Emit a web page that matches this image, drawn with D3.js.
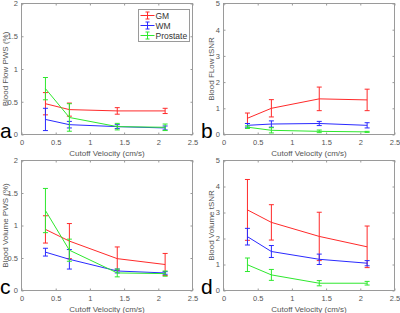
<!DOCTYPE html>
<html>
<head>
<meta charset="utf-8">
<script src="https://cdn.jsdelivr.net/npm/d3@7"></script>
<style>
  body { margin: 0; background: #fff; }
  svg { display: block; font-family: "Liberation Sans", Arial, sans-serif; }
</style>
</head>
<body>
<svg id="chart" width="400" height="313"></svg>
<script>
const velocities = [0.35, 0.7, 1.4, 2.1]
const groups = ["GM", "WM", "Prostate"]
const groupColors = ["#ff2a2a", "#2a2aff", "#2ee82e"]
const xTicks = [0, 0.5, 1, 1.5, 2, 2.5]

// rows: GM, WM, Prostate
const flowPwsMean = [[0.47, 0.38, 0.36, 0.36], [0.23, 0.15, 0.12, 0.10], [0.70, 0.26, 0.12, 0.11]]
const flowPwsErr = [[0.17, 0.10, 0.05, 0.04], [0.17, 0.05, 0.03, 0.03], [0.17, 0.21, 0.05, 0.05]]

const flowSnrMean = [[0.62, 1.00, 1.36, 1.32], [0.35, 0.40, 0.42, 0.35], [0.28, 0.16, 0.12, 0.10]]
const flowSnrErr = [[0.20, 0.33, 0.45, 0.41], [0.07, 0.12, 0.08, 0.10], [0.05, 0.10, 0.05, 0.02]]

const volPwsMean = [[0.94, 0.76, 0.49, 0.40], [0.59, 0.48, 0.30, 0.27], [1.23, 0.62, 0.27, 0.26]]
const volPwsErr = [[0.21, 0.27, 0.18, 0.17], [0.06, 0.15, 0.03, 0.02], [0.34, 0.17, 0.06, 0.04]]

const volSnrMean = [[3.10, 2.62, 2.08, 1.68], [2.07, 1.50, 1.20, 1.05], [0.99, 0.60, 0.28, 0.28]]
const volSnrErr = [[1.17, 0.68, 0.93, 0.80], [0.32, 0.23, 0.20, 0.10], [0.26, 0.21, 0.10, 0.07]]

const panels = [
  { letter: "a", ylabel: "Blood Flow PWS (%)", ymax: 2, yticks: [0, 0.5, 1, 1.5, 2], mean: flowPwsMean, err: flowPwsErr, legend: true },
  { letter: "b", ylabel: "Blood FLow tSNR", ymax: 5, yticks: [0, 1, 2, 3, 4, 5], mean: flowSnrMean, err: flowSnrErr },
  { letter: "c", ylabel: "Blood Volume PWS (%)", ymax: 2, yticks: [0, 0.5, 1, 1.5, 2], mean: volPwsMean, err: volPwsErr },
  { letter: "d", ylabel: "Blood Volume tSNR", ymax: 5, yticks: [0, 1, 2, 3, 4, 5], mean: volSnrMean, err: volSnrErr },
]

const svg = d3.select("#chart")
const boxes = [
  { x0: 21.5, x1: 192.5, y0: 3.5, y1: 134.5 },
  { x0: 223.5, x1: 394.5, y0: 3.5, y1: 134.5 },
  { x0: 21.5, x1: 192.5, y0: 160.5, y1: 290.5 },
  { x0: 223.5, x1: 394.5, y0: 160.5, y1: 290.5 },
]
const axisColor = "#9a9a9a"
const textColor = "#555"
const capW = 2.5
const tickFont = 7.5

panels.forEach((p, i) => {
  const b = boxes[i]
  const g = svg.append("g")
  const x = d3.scaleLinear().domain([0, 2.5]).range([b.x0, b.x1])
  const y = d3.scaleLinear().domain([0, p.ymax]).range([b.y1, b.y0])

  // box
  g.append("rect")
    .attr("x", b.x0).attr("y", b.y0)
    .attr("width", b.x1 - b.x0).attr("height", b.y1 - b.y0)
    .attr("fill", "none").attr("stroke", axisColor).attr("stroke-width", 1)

  // axes (ticks inward, matlab style)
  const xAxis = g.append("g").attr("transform", `translate(0,${b.y1})`)
    .call(d3.axisBottom(x).tickValues(xTicks).tickSize(-2).tickPadding(5).tickFormat(d3.format("")))
  const xTop = g.append("g").attr("transform", `translate(0,${b.y0})`)
    .call(d3.axisTop(x).tickValues(xTicks).tickSize(-2).tickFormat(""))
  const yAxis = g.append("g").attr("transform", `translate(${b.x0},0)`)
    .call(d3.axisLeft(y).tickValues(p.yticks).tickSize(-2).tickPadding(3.5).tickFormat(d3.format("")))
  const yRight = g.append("g").attr("transform", `translate(${b.x1},0)`)
    .call(d3.axisRight(y).tickValues(p.yticks).tickSize(-2).tickFormat(""))
  ;[xAxis, xTop, yAxis, yRight].forEach((a) => {
    a.select(".domain").remove()
    a.selectAll(".tick line").attr("stroke", axisColor)
    a.selectAll(".tick text").attr("fill", textColor).attr("font-size", tickFont)
      .attr("font-family", "Liberation Sans, Arial, sans-serif")
  })

  // x label
  g.append("text")
    .attr("x", (b.x0 + b.x1) / 2).attr("y", b.y1 + 21.5)
    .attr("text-anchor", "middle").attr("font-size", 8).attr("fill", textColor)
    .text("Cutoff Velocity (cm/s)")

  // y label
  const ylx = i % 2 === 0 ? b.x0 - 14 : b.x0 - 9.5
  g.append("text")
    .attr("transform", `translate(${ylx},${(b.y0 + b.y1) / 2}) rotate(-90)`)
    .attr("text-anchor", "middle").attr("font-size", 8).attr("fill", textColor)
    .text(p.ylabel)

  // panel letter
  g.append("text")
    .attr("x", i % 2 === 0 ? 0 : 201).attr("y", b.y1 + 3)
    .attr("font-size", 21).attr("fill", "#000")
    .text(p.letter)

  // series
  groups.forEach((name, k) => {
    const pts = velocities.map((v, j) => ({ v, m: p.mean[k][j], e: p.err[k][j] }))
    const color = groupColors[k]
    g.append("path")
      .datum(pts)
      .attr("fill", "none").attr("stroke", color).attr("stroke-width", 1)
      .attr("d", d3.line().x((d) => x(d.v)).y((d) => y(d.m)))
    const eb = g.selectAll(".eb" + k).data(pts).enter().append("g")
    eb.append("line")
      .attr("x1", (d) => x(d.v)).attr("x2", (d) => x(d.v))
      .attr("y1", (d) => y(d.m - d.e)).attr("y2", (d) => y(d.m + d.e))
      .attr("stroke", color).attr("stroke-width", 1)
    ;[-1, 1].forEach((s) => {
      eb.append("line")
        .attr("x1", (d) => x(d.v) - capW).attr("x2", (d) => x(d.v) + capW)
        .attr("y1", (d) => y(d.m + s * d.e)).attr("y2", (d) => y(d.m + s * d.e))
        .attr("stroke", color).attr("stroke-width", 1)
    })
  })

  // legend
  if (p.legend) {
    const lg = g.append("g").attr("transform", "translate(138.5,9.5)")
    lg.append("rect").attr("width", 51).attr("height", 32)
      .attr("fill", "#fff").attr("stroke", axisColor)
    groups.forEach((name, k) => {
      const row = lg.append("g").attr("transform", `translate(0,${6 + k * 10})`)
      const c = groupColors[k]
      row.append("line").attr("x1", 2).attr("x2", 16).attr("stroke", c)
      row.append("line").attr("x1", 9).attr("x2", 9).attr("y1", -3.5).attr("y2", 3.5).attr("stroke", c)
      row.append("line").attr("x1", 7).attr("x2", 11).attr("y1", -3.5).attr("y2", -3.5).attr("stroke", c)
      row.append("line").attr("x1", 7).attr("x2", 11).attr("y1", 3.5).attr("y2", 3.5).attr("stroke", c)
      row.append("text").attr("x", 17).attr("y", 3).attr("font-size", 8.5).attr("fill", "#333").text(name)
    })
  }
})
</script>
</body>
</html>
